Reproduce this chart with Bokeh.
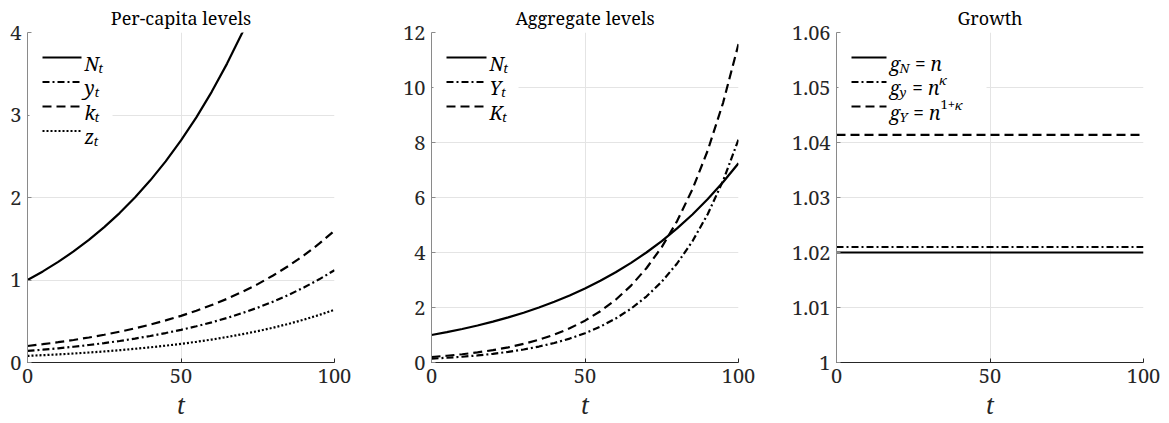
from bokeh.plotting import figure
from bokeh.layouts import row
from bokeh.models import FixedTicker, Arrow, Label, BoxAnnotation, Range1d
from bokeh.embed import file_html
from bokeh.resources import INLINE

# ---------------- data ----------------
t = [0, 5, 10, 15, 20, 25, 30, 35, 40, 45, 50, 55, 60, 65, 70, 75, 80, 85, 90, 95, 100]
N_t = [1.000, 1.104, 1.219, 1.346, 1.486, 1.641, 1.811, 2.000, 2.208, 2.438, 2.692,
       2.972, 3.281, 3.623, 4.000, 4.416, 4.875, 5.383, 5.943, 6.562, 7.245]
y_t = [0.140, 0.155, 0.172, 0.191, 0.212, 0.235, 0.261, 0.290, 0.321, 0.357, 0.396,
       0.439, 0.487, 0.540, 0.600, 0.665, 0.738, 0.819, 0.909, 1.008, 1.119]
k_t = [0.200, 0.222, 0.246, 0.273, 0.303, 0.336, 0.373, 0.414, 0.459, 0.510, 0.565,
       0.627, 0.696, 0.772, 0.857, 0.950, 1.055, 1.170, 1.298, 1.440, 1.598]
z_t = [0.080, 0.089, 0.098, 0.109, 0.121, 0.134, 0.149, 0.166, 0.184, 0.204, 0.226,
       0.251, 0.278, 0.309, 0.343, 0.380, 0.422, 0.468, 0.519, 0.576, 0.639]
Y_t = [0.140, 0.172, 0.210, 0.257, 0.315, 0.386, 0.473, 0.580, 0.710, 0.870, 1.065,
       1.305, 1.599, 1.958, 2.399, 2.938, 3.600, 4.409, 5.401, 6.616, 8.106]
K_t = [0.200, 0.245, 0.300, 0.368, 0.450, 0.552, 0.676, 0.828, 1.014, 1.242, 1.522,
       1.864, 2.284, 2.797, 3.427, 4.197, 5.142, 6.299, 7.716, 9.452, 11.580]

t_growth = [0, 100]
g_N = [1.0200, 1.0200]
g_y = [1.0210, 1.0210]
g_Y = [1.0414, 1.0414]

x_ticks = [0, 50, 100]
x_tick_labels = ["0", "50", "100"]
y1_ticks = [0, 1, 2, 3, 4]
y1_tick_labels = ["0", "1", "2", "3", "4"]
y2_ticks = [0, 2, 4, 6, 8, 10, 12]
y2_tick_labels = ["0", "2", "4", "6", "8", "10", "12"]
y3_ticks = [1.0, 1.01, 1.02, 1.03, 1.04, 1.05, 1.06]
y3_tick_labels = ["1", "1.01", "1.02", "1.03", "1.04", "1.05", "1.06"]

titles = ["Per-capita levels", "Aggregate levels", "Growth"]

# ---------------- styling ----------------
FONT = "Noto Serif"
FW, FH = 307, 330
LW = 2.2
DASH = {"solid": "solid", "dashdot": "7 3 2 3", "dashed": "9 5", "dotted": "2 2"}

W_ITAL = {"N": .72, "y": .52, "k": .53, "z": .47, "Y": .6, "K": .66,
          "g": .53, "n": .6, "t": .34, "κ": .55}
W_REG = {"=": .559, "1": .559, "+": .559}


def make_fig(width, left, right, title, yr, yticks, ylabels):
    p = figure(width=width, height=423, output_backend="svg", toolbar_location=None,
               x_range=Range1d(0, 100), y_range=Range1d(*yr),
               min_border_left=left, min_border_right=right,
               min_border_top=32, min_border_bottom=61)
    p.outline_line_color = None
    p.background_fill_color = "white"
    p.title.text = title
    p.title.align = "center"
    p.title.text_font = FONT
    p.title.text_font_size = "18px"
    p.title.text_font_style = "normal"
    p.title.text_color = "black"
    p.title.standoff = 6

    for ax in (p.xaxis[0], p.yaxis[0]):
        ax.major_tick_in = 4
        ax.major_tick_out = 0
        ax.minor_tick_line_color = None
        ax.major_label_text_font = FONT
        ax.major_label_text_font_size = "20px"
        ax.major_label_text_color = "#262626"
    p.xaxis.ticker = FixedTicker(ticks=x_ticks)
    p.xaxis.major_label_overrides = {v: s for v, s in zip(x_ticks, x_tick_labels)}
    p.yaxis.ticker = FixedTicker(ticks=yticks)
    p.yaxis.major_label_overrides = {v: s for v, s in zip(yticks, ylabels)}
    p.xaxis.axis_line_color = "#262626"
    p.xaxis.major_tick_line_color = "#262626"
    p.yaxis.axis_line_color = "#8a8a8a"
    p.yaxis.major_tick_line_color = "#8a8a8a"
    p.xaxis.major_label_standoff = 6
    p.yaxis.major_label_standoff = 6
    p.xaxis.axis_label = "t"
    p.xaxis.axis_label_text_font = FONT
    p.xaxis.axis_label_text_font_style = "italic"
    p.xaxis.axis_label_text_font_size = "23px"
    p.xaxis.axis_label_text_color = "#262626"
    p.xaxis.axis_label_standoff = 3
    p.grid.grid_line_color = "#e4e4e4"
    p.grid.grid_line_width = 1
    p.xgrid.ticker = FixedTicker(ticks=x_ticks)
    p.ygrid.ticker = FixedTicker(ticks=yticks)
    return p


def add_legend(p, entries, sample_end, box_right, box_bottom):
    p.add_layout(BoxAnnotation(left=2, right=box_right, top=FH - 6, bottom=FH - box_bottom,
                               left_units="screen", right_units="screen",
                               top_units="screen", bottom_units="screen",
                               fill_color="white", fill_alpha=1.0, line_color=None))
    rows_y = [25, 49.5, 74, 98.5]
    for (style, parts), yc in zip(entries, rows_y):
        ys = FH - yc
        p.add_layout(Arrow(end=None, x_start=15, y_start=ys, x_end=sample_end, y_end=ys,
                           start_units="screen", end_units="screen",
                           line_color="black", line_width=LW, line_dash=DASH[style]))
        x = sample_end + 3
        base = ys - 6
        for text, kind in parts:
            if kind == "m":
                size, style_f, yy = 19, "italic", base
                w = sum(W_ITAL.get(c, .5) for c in text) * size
            elif kind == "s":
                size, style_f, yy = 13, "italic", base - 4
                w = sum(W_ITAL.get(c, .5) for c in text) * size + 1
            elif kind == "p":
                size, style_f, yy = 13, "italic", base + 8
                w = sum(W_ITAL.get(c, .5) for c in text) * size
            elif kind == "pr":
                size, style_f, yy = 13, "normal", base + 8
                w = sum(W_REG.get(c, .5) for c in text) * size
            else:  # operator
                size, style_f, yy = 19, "normal", base
                x += 5
                w = sum(W_REG.get(c, .5) for c in text) * size + 5
            p.add_layout(Label(x=x, y=yy, x_units="screen", y_units="screen", text=text,
                               text_font=FONT, text_font_size=f"{size}px",
                               text_font_style=style_f, text_color="black",
                               text_baseline="alphabetic", text_align="left"))
            x += w


# ---------------- panel 1 ----------------
p1 = make_fig(398, 27, 64, titles[0], (0, 4), y1_ticks, y1_tick_labels)
p1.line(t, N_t, line_color="black", line_width=LW, line_dash=DASH["solid"])
p1.line(t, y_t, line_color="black", line_width=LW, line_dash=DASH["dashdot"])
p1.line(t, k_t, line_color="black", line_width=LW, line_dash=DASH["dashed"])
p1.line(t, z_t, line_color="black", line_width=LW, line_dash=DASH["dotted"])
add_legend(p1, [("solid", [("N", "m"), ("t", "s")]),
                ("dashdot", [("y", "m"), ("t", "s")]),
                ("dashed", [("k", "m"), ("t", "s")]),
                ("dotted", [("z", "m"), ("t", "s")])], 54, 85, 112)

# ---------------- panel 2 ----------------
p2 = make_fig(385, 33, 45, titles[1], (0, 12), y2_ticks, y2_tick_labels)
p2.line(t, N_t, line_color="black", line_width=LW, line_dash=DASH["solid"])
p2.line(t, Y_t, line_color="black", line_width=LW, line_dash=DASH["dashdot"])
p2.line(t, K_t, line_color="black", line_width=LW, line_dash=DASH["dashed"])
add_legend(p2, [("solid", [("N", "m"), ("t", "s")]),
                ("dashdot", [("Y", "m"), ("t", "s")]),
                ("dashed", [("K", "m"), ("t", "s")])], 55, 87, 92)

# ---------------- panel 3 ----------------
p3 = make_fig(386, 53, 26, titles[2], (1, 1.06), y3_ticks, y3_tick_labels)
p3.line(t_growth, g_N, line_color="black", line_width=LW, line_dash=DASH["solid"])
p3.line(t_growth, g_y, line_color="black", line_width=LW, line_dash=DASH["dashdot"])
p3.line(t_growth, g_Y, line_color="black", line_width=LW, line_dash=DASH["dashed"])
add_legend(p3, [("solid", [("g", "m"), ("N", "s"), ("=", "o"), ("n", "m")]),
                ("dashdot", [("g", "m"), ("y", "s"), ("=", "o"), ("n", "m"), ("κ", "p")]),
                ("dashed", [("g", "m"), ("Y", "s"), ("=", "o"), ("n", "m"),
                            ("1+", "pr"), ("κ", "p")])], 50, 150, 92)

layout = row(p1, p2, p3)
open("out.html", "w").write(file_html(layout, INLINE))
